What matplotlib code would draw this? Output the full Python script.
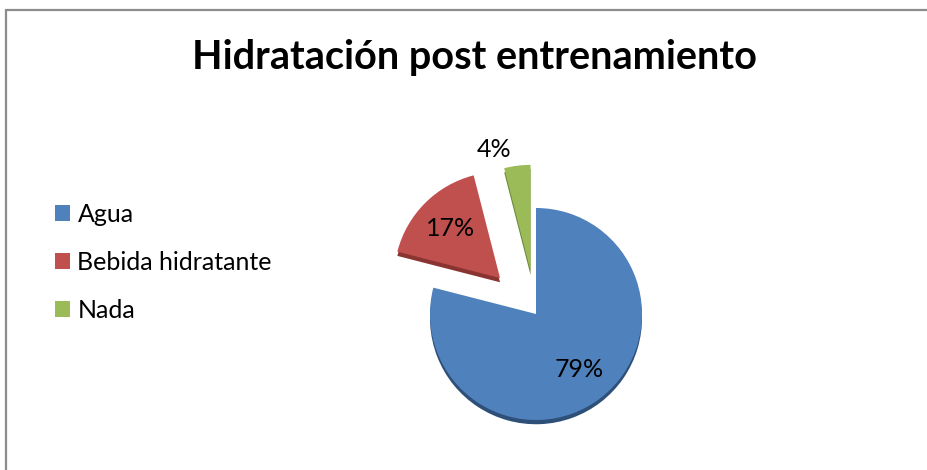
import matplotlib
matplotlib.use("Agg")
import matplotlib.pyplot as plt
from matplotlib.patches import Rectangle, Patch
import numpy as np

categories = ["Agua", "Bebida hidratante", "Nada"]
values = [79, 17, 4]
colors = ["#4F81BD", "#C0504D", "#9BBB59"]
dark_colors = ["#2E4F78", "#8A3431", "#6B8A38"]
explode = [0.0, 0.48, 0.41]
title = "Hidratación post entrenamiento"

plt.rcParams['font.family'] = ['Lato', 'DejaVu Sans']

W, H = 928, 470
fig = plt.figure(figsize=(W / 100, H / 100), dpi=100)

# outer chart frame
fig.patches.append(Rectangle((6 / W, -0.1), 1.2, 1.1 - 10 / H, transform=fig.transFigure,
                             fill=False, edgecolor="#8c8c8c", linewidth=1.6))

# pie axes positioned in pixels
R = 106  # px per unit radius
cx, cy = 536, 314  # pixel center (from top)
half = 1.6
size = 2 * half * R
ax = fig.add_axes([(cx - size / 2) / W, (H - cy - size / 2) / H, size / W, size / H])

# depth (3D edge) layer
ax.pie(values, explode=explode, colors=dark_colors, startangle=90, counterclock=False,
       radius=1.0, center=(0, -0.04), wedgeprops=dict(linewidth=0))
wedges, texts, autotexts = ax.pie(values, explode=explode, colors=colors, startangle=90,
                                  counterclock=False, radius=1.0, center=(0, 0),
                                  autopct="%1.0f%%", pctdistance=0.66,
                                  wedgeprops=dict(linewidth=0),
                                  textprops=dict(fontsize=18, color="black"))
ax.set_xlim(-half, half)
ax.set_ylim(-half, half)
ax.set_aspect("equal")
ax.axis("off")

# small slice label placed outside its wedge
w = wedges[2]
ang = np.deg2rad((w.theta1 + w.theta2) / 2)
c = w.center
autotexts[2].set_position((c[0] + 1.15 * np.cos(ang) - 0.2, c[1] + 1.15 * np.sin(ang)))

fig.text(475 / W, 1 - 58 / H, title, ha="center", va="center", fontsize=28.5, fontweight="bold")

handles = [Patch(facecolor=col, edgecolor="none") for col in colors]
fig.legend(handles, categories, loc="upper left", bbox_to_anchor=(55 / W, 1 - 203 / H),
           frameon=False, fontsize=18, handlelength=0.6, handleheight=0.6,
           handletextpad=0.3, labelspacing=1.0, borderaxespad=0, borderpad=0)

fig.savefig("out.png", dpi=100)
